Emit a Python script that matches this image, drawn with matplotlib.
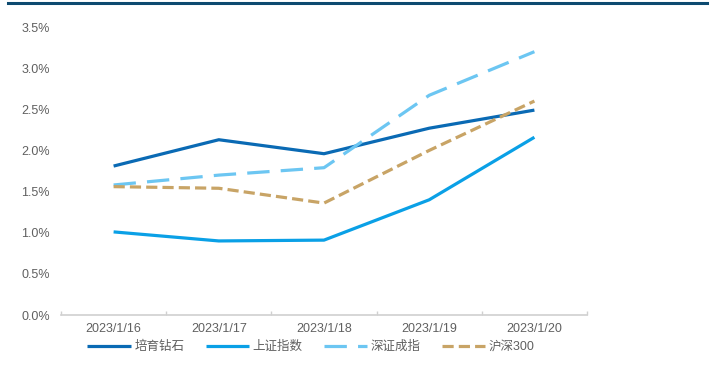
import matplotlib
matplotlib.use("Agg")
import matplotlib.pyplot as plt
from matplotlib.lines import Line2D
from matplotlib.ticker import FuncFormatter, FixedLocator

plt.rcParams['font.family'] = ['Liberation Sans', 'Noto Sans CJK SC', 'DejaVu Sans']

# Daily returns (%)
dates = ["2023/1/16", "2023/1/17", "2023/1/18", "2023/1/19", "2023/1/20"]
diamond = [1.81, 2.13, 1.96, 2.27, 2.49]
shanghai = [1.01, 0.90, 0.91, 1.40, 2.16]
shenzhen = [1.58, 1.70, 1.79, 2.67, 3.20]
hs300 = [1.56, 1.54, 1.36, 2.00, 2.60]

names = ["培育钻石", "上证指数", "深证成指", "沪深300"]
colors = ["#0a6ab4", "#0aa0e6", "#6cc6f2", "#c8a466"]

fig = plt.figure(figsize=(7.16, 3.67), dpi=100)
ax = fig.add_axes([61 / 716, 52 / 367, 526 / 716, 288 / 367])

x = list(range(len(dates)))
lw = 2.3
ax.plot(x, diamond, color=colors[0], lw=lw, label=names[0], solid_capstyle="butt")
ax.plot(x, shanghai, color=colors[1], lw=lw, label=names[1], solid_capstyle="butt")
ax.plot(x, shenzhen, color=colors[2], lw=lw, label=names[2], dashes=(7, 3.5))
ax.plot(x, hs300, color=colors[3], lw=lw, label=names[3], dashes=(3.5, 1.6))

ax.set_xlim(-0.5, 4.5)
ax.set_ylim(0, 3.5)
ax.set_yticks([i * 0.5 for i in range(8)])
ax.yaxis.set_major_formatter(FuncFormatter(lambda v, p: f"{v:.1f}%"))
ax.set_xticks(x)
ax.set_xticklabels(dates)
ax.xaxis.set_minor_locator(FixedLocator([i - 0.5 for i in range(len(dates) + 1)]))

for s in ["top", "right", "left"]:
    ax.spines[s].set_visible(False)
ax.spines["bottom"].set_color("#d0d0d0")
ax.spines["bottom"].set_linewidth(1.2)

ax.tick_params(axis="y", length=0, pad=8, labelsize=9, labelcolor="#606060")
ax.tick_params(axis="x", which="major", length=0, pad=6, labelsize=9, labelcolor="#606060")
ax.tick_params(axis="x", which="minor", direction="in", length=3, color="#d0d0d0", width=1)

leg = fig.legend(loc="center", bbox_to_anchor=(311 / 716, 20 / 367), ncol=4,
                 frameon=False, handlelength=3.45, handletextpad=0.3,
                 columnspacing=1.7, fontsize=9)
for t in leg.get_texts():
    t.set_color("#606060")

# dark rule along the top edge
fig.add_artist(Line2D([8 / 716, 707 / 716], [364.5 / 367, 364.5 / 367],
                      color="#0d4a70", lw=2.2, transform=fig.transFigure))

fig.savefig("out.png", dpi=100)
